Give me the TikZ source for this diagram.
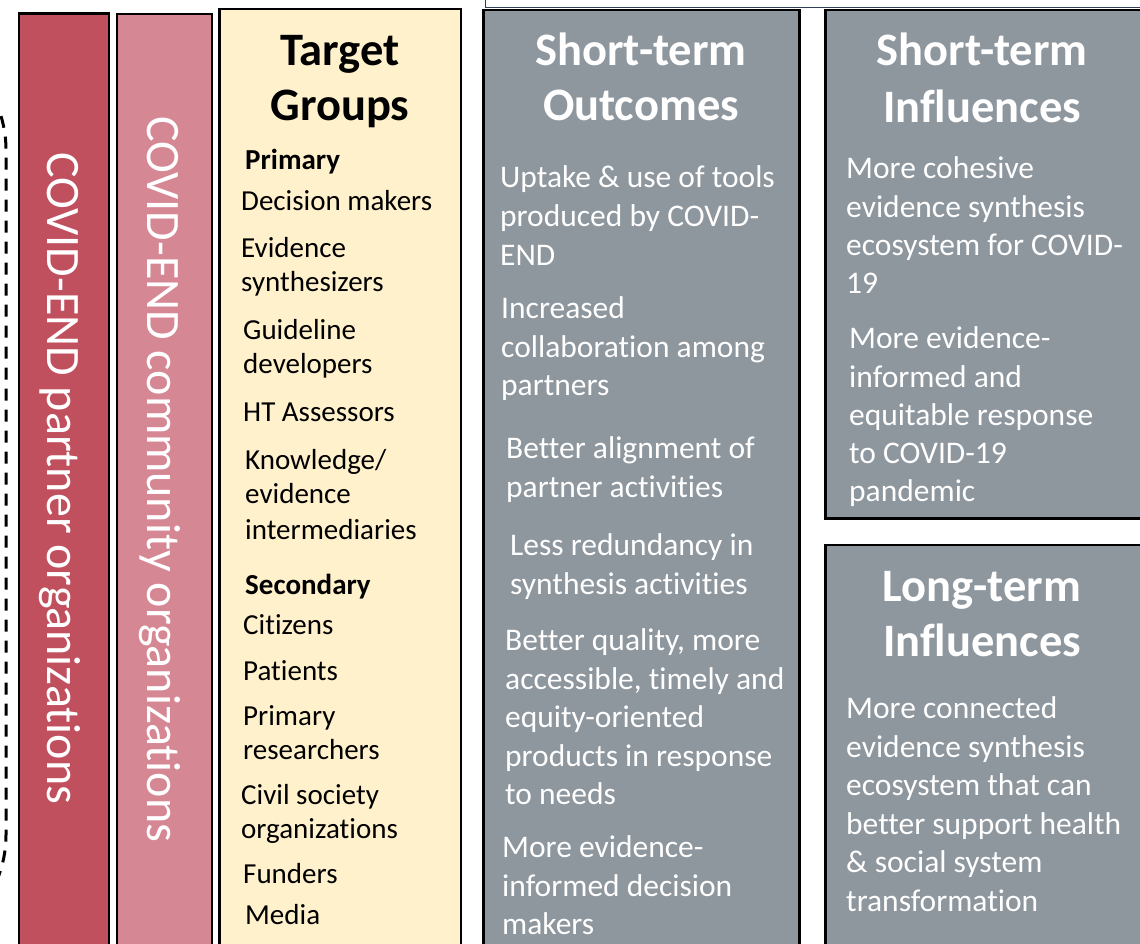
\documentclass[tikz,border=0pt]{standalone}
\usepackage{fontspec}
\setmainfont{Carlito}[Ligatures={NoCommon}, RawFeature={-liga}]
\definecolor{partnerred}{RGB}{192,80,94}
\definecolor{communitypink}{RGB}{214,135,148}
\definecolor{targetyellow}{RGB}{255,241,204}
\definecolor{outcomegrey}{RGB}{142,150,158}
\definecolor{topline}{RGB}{47,62,85}
\tikzset{
  panel/.style={draw=black, line width=2.5pt},
  vtext/.style={text=white, inner sep=0pt, rotate=-90, anchor=base west, font=\fontsize{48}{58}\selectfont},
  head/.style={inner sep=0pt, anchor=base, font=\fontsize{46.5}{54}\selectfont\bfseries},
  whitehead/.style={head, text=white},
  ylabel/.style={inner sep=0pt, anchor=base west, font=\fontsize{29}{34}\selectfont\bfseries},
  yitem/.style={inner sep=0pt, anchor=base west, font=\fontsize{29}{34}\selectfont},
  gitem/.style={inner sep=0pt, anchor=base west, text=white, font=\fontsize{31.5}{38}\selectfont},
}
\begin{document}
\begin{tikzpicture}[x=1pt,y=-1pt]
\useasboundingbox (0,0) rectangle (1140,943);
\clip (0,0) rectangle (1140,943);
% dashed outline (mostly off-canvas)
\draw[line width=3pt, dash pattern=on 12pt off 9pt, rounded corners=117pt] (-400,33) rectangle (6,952);
% top line
\draw[topline, line width=1.5pt] (485.7,-2) -- (485.7,7.3) -- (1145,7.3);
% panels
\draw[panel, fill=partnerred] (19,13.5) rectangle (109,960);
\draw[panel, fill=communitypink] (117,14) rectangle (212,960);
\draw[panel, fill=targetyellow] (219.5,9) rectangle (461,960);
\draw[panel, fill=outcomegrey] (483.5,10) rectangle (799.5,960);
\draw[panel, fill=outcomegrey] (825.5,10) rectangle (1150,518.5);
\draw[panel, fill=outcomegrey] (825.5,545) rectangle (1150,960);
% vertical texts
\node[vtext] (partner) at (47,152) {COVID-END partner organizations};
\node[vtext] (community) at (147,116) {COVID-END community organizations};
% Target groups
\node[head] (tg1) at (340,65) {Target};
\node[head] (tg2) at (340,120) {Groups};
\node[ylabel] (prim) at (245,169) {Primary};
\foreach \x/\y/\t [count=\i] in {241/210/{Decision makers}, 241/257/{Evidence}, 241/291/{synthesizers},
  243/339/{Guideline}, 243/373/{developers}, 243/421/{HT Assessors}, 245/469/{Knowledge/}, 245/503/{evidence},
  245/539/{intermediaries}}
  \node[yitem] (pi\i) at (\x,\y) {\t};
\node[ylabel] (sec) at (245,594) {Secondary};
\foreach \x/\y/\t [count=\i] in {243/634/{Citizens}, 243/680/{Patients}, 243/725/{Primary}, 243/759/{researchers},
  241/804/{Civil society}, 241/838/{organizations}, 243/883/{Funders}, 245/924/{Media}}
  \node[yitem] (si\i) at (\x,\y) {\t};
% Short-term outcomes
\node[whitehead] (so1) at (641,65) {Short-term};
\node[whitehead] (so2) at (641,120) {Outcomes};
\foreach \x/\y/\t [count=\i] in {500/187.5/{Uptake \& use of tools}, 500/226.5/{produced by COVID-}, 500/265/{END},
  501/318.5/{Increased}, 501/357/{collaboration among}, 501/395.5/{partners},
  506/458.5/{Better alignment of}, 506/497.5/{partner activities},
  510/555/{Less redundancy in}, 510/594/{synthesis activities},
  505/650/{Better quality, more}, 505/689/{accessible, timely and}, 505/727.5/{equity-oriented},
  505/766.5/{products in response}, 505/804/{to needs},
  502/857.5/{More evidence-}, 502/896/{informed decision}, 502/934.5/{makers}}
  \node[gitem] (oi\i) at (\x,\y) {\t};
% Short-term influences
\node[whitehead] (si1h) at (982,65) {Short-term};
\node[whitehead] (si2h) at (982,122) {Influences};
\foreach \x/\y/\t [count=\i] in {846/178/{More cohesive}, 846/217.5/{evidence synthesis}, 846/255.5/{ecosystem for COVID-},
  846/293/{19}, 849/348/{More evidence-}, 849/387/{informed and}, 849/425/{equitable response},
  849/463/{to COVID-19}, 849/501/{pandemic}}
  \node[gitem] (ii\i) at (\x,\y) {\t};
% Long-term influences
\node[whitehead] (li1h) at (982,601) {Long-term};
\node[whitehead] (li2h) at (982,656) {Influences};
\foreach \x/\y/\t [count=\i] in {846/718.5/{More connected}, 846/757/{evidence synthesis}, 846/795.5/{ecosystem that can},
  846/834/{better support health}, 846/872.5/{\& social system}, 846/911/{transformation}}
  \node[gitem] (li\i) at (\x,\y) {\t};
\end{tikzpicture}
\end{document}
